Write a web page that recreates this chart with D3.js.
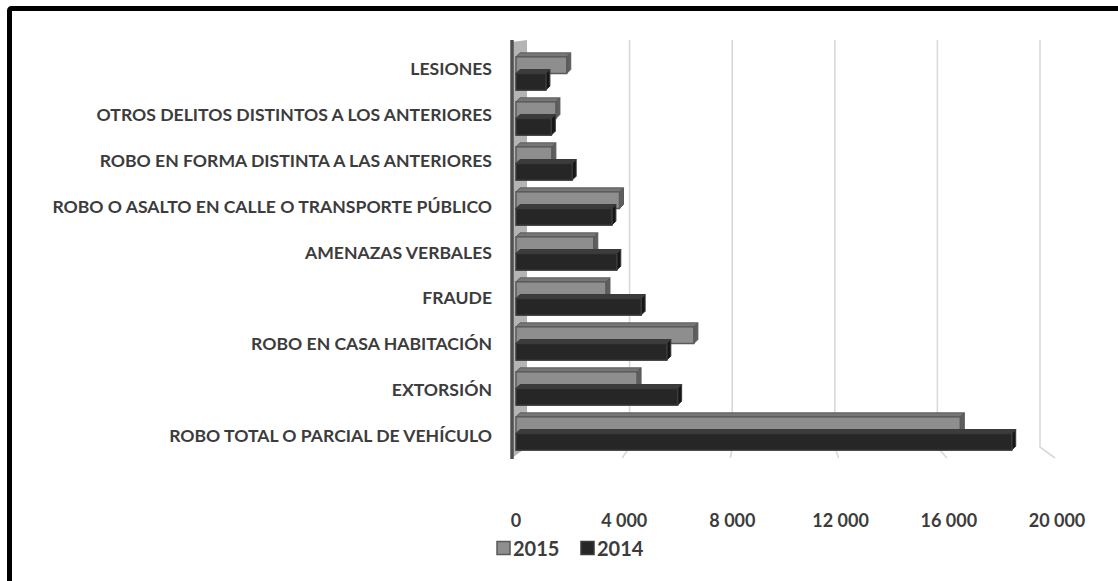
<!DOCTYPE html>
<html>
<head>
<meta charset="utf-8">
<script src="https://cdn.jsdelivr.net/npm/d3@7"></script>
<style>
  body { margin: 0; background: #fff; }
  svg { display: block; }
</style>
</head>
<body>
<div id="chart"></div>
<script>
// data, top to bottom as in the chart
const categories = [
  "LESIONES",
  "OTROS DELITOS DISTINTOS A LOS ANTERIORES",
  "ROBO EN FORMA DISTINTA A LAS ANTERIORES",
  "ROBO O ASALTO EN CALLE O TRANSPORTE PÚBLICO",
  "AMENAZAS VERBALES",
  "FRAUDE",
  "ROBO EN CASA HABITACIÓN",
  "EXTORSIÓN",
  "ROBO TOTAL O PARCIAL DE VEHÍCULO"
];
const seriesNames = ["2015", "2014"];
const values2015 = [1950, 1550, 1400, 3900, 2950, 3400, 6650, 4550, 16500];
const values2014 = [1180, 1380, 2150, 3620, 3800, 4700, 5650, 6050, 18400];
const ticks = [0, 4000, 8000, 12000, 16000, 20000];

const width = 1118, height = 581;
const depth = 4;
const font = "Lato, 'Open Sans', sans-serif";

const svg = d3.select("#chart")
  .append("svg")
    .attr("width", width)
    .attr("height", height);

// outer frame (clipped on right and bottom like the picture)
svg.append("rect")
  .attr("x", 9.5).attr("y", 8.5)
  .attr("width", width + 20).attr("height", height + 20)
  .attr("fill", "none")
  .attr("stroke", "#000")
  .attr("stroke-width", 5)
  .attr("rx", 2);

// front and back planes of the 3D chart
const xFront = d3.scaleLinear().domain([0, 20000]).range([514, 1055]);
const xBack = d3.scaleLinear().domain([0, 20000]).range([527, 1040]);

const yLabel = d3.scaleBand().domain(categories).range([46, 458]);
const yBar = d3.scaleBand().domain(categories).range([51, 456]).paddingInner(0.26).paddingOuter(0.13);
const ySeries = d3.scaleBand().domain(seriesNames).range([0, yBar.bandwidth()]);

const color = d3.scaleOrdinal().domain(seriesNames).range(["#8e8e8e", "#262626"]);
const topColor = d3.scaleOrdinal().domain(seriesNames).range(["#767676", "#3c3c3c"]);
const sideColor = d3.scaleOrdinal().domain(seriesNames).range(["#5e5e5e", "#161616"]);
const edgeColor = d3.scaleOrdinal().domain(seriesNames).range(["#5a5a5a", "#3a3a3a"]);

const fmt = d3.formatLocale({ decimal: ".", thousands: " ", grouping: [3], currency: ["", ""] }).format(",");

// gridlines on back wall + floor
const grid = svg.append("g");
ticks.slice(1).forEach(t => {
  grid.append("path")
    .attr("d", "M" + xBack(t) + ",40 L" + xBack(t) + ",447 L" + xFront(t) + ",458")
    .attr("fill", "none")
    .attr("stroke", "#d9d9d9")
    .attr("stroke-width", 1.6);
});

// side wall
svg.append("path")
  .attr("d", "M512,42 L527,40 L527,447 L512,458 Z")
  .attr("fill", "#b4b4b4");
svg.append("line")
  .attr("x1", 512).attr("x2", 512)
  .attr("y1", 40).attr("y2", 459)
  .attr("stroke", "#505050")
  .attr("stroke-width", 3.5);

// bars
const rows = categories.map((c, i) => ({ cat: c, vals: [values2015[i], values2014[i]] }));

const groups = svg.append("g").selectAll("g")
  .data(rows)
  .join("g")
    .attr("transform", d => "translate(0," + yBar(d.cat) + ")");

const bars = groups.selectAll("g")
  .data(d => seriesNames.map((s, j) => ({ key: s, value: d.vals[j] })))
  .join("g");

bars.each(function(d) {
  const g = d3.select(this);
  const x0 = xFront(0) + 2, x1 = xFront(d.value);
  const y = ySeries(d.key), h = ySeries.bandwidth();
  g.append("path")
    .attr("d", `M${x0},${y} L${x0 + depth},${y - depth} L${x1 + depth},${y - depth} L${x1},${y} Z`)
    .attr("fill", topColor(d.key))
    .attr("stroke", edgeColor(d.key)).attr("stroke-width", 1);
  g.append("path")
    .attr("d", `M${x1},${y} L${x1 + depth},${y - depth} L${x1 + depth},${y + h - depth} L${x1},${y + h} Z`)
    .attr("fill", sideColor(d.key))
    .attr("stroke", edgeColor(d.key)).attr("stroke-width", 1);
  g.append("rect")
    .attr("x", x0).attr("y", y)
    .attr("width", x1 - x0).attr("height", h)
    .attr("fill", color(d.key))
    .attr("stroke", edgeColor(d.key)).attr("stroke-width", 1.5);
});

// category labels
svg.append("g").selectAll("text")
  .data(categories)
  .join("text")
    .attr("x", 492)
    .attr("y", d => yLabel(d) + yLabel.bandwidth() / 2)
    .attr("text-anchor", "end")
    .attr("dominant-baseline", "central")
    .style("font-family", font)
    .style("font-weight", "bold")
    .style("font-size", "17.6px")
    .style("fill", "#3c3c3c")
    .text(d => d);

// x tick labels
svg.append("g").selectAll("text")
  .data(ticks)
  .join("text")
    .attr("x", d => xFront(d) + 2)
    .attr("y", 520)
    .attr("text-anchor", "middle")
    .attr("dominant-baseline", "central")
    .style("font-family", font)
    .style("font-weight", "bold")
    .style("font-size", "18px")
    .style("fill", "#3c3c3c")
    .text(d => fmt(d));

// legend
const legend = svg.append("g").attr("transform", "translate(497,548)");
const legendX = [0, 84];
seriesNames.forEach((s, i) => {
  legend.append("rect")
    .attr("x", legendX[i]).attr("y", -6.5)
    .attr("width", 13).attr("height", 13)
    .attr("fill", color(s))
    .attr("stroke", edgeColor(s)).attr("stroke-width", 1.5);
  legend.append("text")
    .attr("x", legendX[i] + 16).attr("y", 0)
    .attr("dominant-baseline", "central")
    .style("font-family", font)
    .style("font-weight", "bold")
    .style("font-size", "20px")
    .style("fill", "#3c3c3c")
    .text(s);
});
</script>
</body>
</html>
